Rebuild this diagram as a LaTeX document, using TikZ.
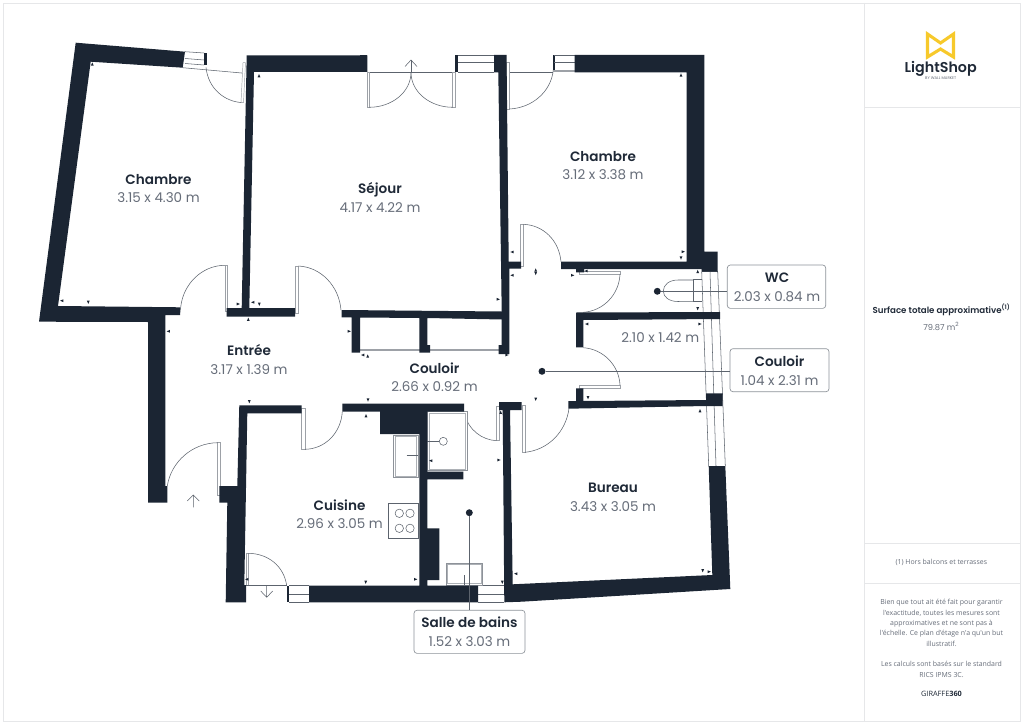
\documentclass[tikz,border=0pt]{standalone}
\usepackage{fontspec}
\setmainfont{Poppins}
\newfontfamily\semib{Poppins}[UprightFont=* SemiBold]
\newfontfamily\smallfont{Open Sans}
\definecolor{wallc}{HTML}{1B2533}
\definecolor{textd}{HTML}{1F2937}
\definecolor{textg}{HTML}{666D79}
\definecolor{linec}{HTML}{5C636D}
\definecolor{framec}{HTML}{E6E7E9}
\definecolor{gold}{HTML}{F7C92B}
\tikzset{
  wallp/.style={fill=wallc,draw=none},
  thin line/.style={draw=linec,line width=.4pt},
  panel/.style={draw=linec!60,line width=.35pt,fill=white},
  rname/.style={font=\semib\fontsize{10.2}{12}\selectfont,text=textd,inner sep=0pt,anchor=center,text height=8.6pt,text depth=0pt},
  rsize/.style={font=\fontsize{10.1}{12}\selectfont,text=textg,inner sep=0pt,anchor=center,text height=8.6pt,text depth=0pt},
  callout/.style={draw=linec!70,line width=.5pt,rounded corners=2.2pt,fill=white,inner sep=0pt},
  leaderdot/.style={circle,fill=wallc,inner sep=0pt,minimum size=5.2pt},
  frameline/.style={draw=framec,line width=.6pt},
  note/.style={font=\smallfont\fontsize{5.2}{6}\selectfont,text=textg,inner sep=0pt,anchor=center}
}
\begin{document}
\begin{tikzpicture}[x=.75pt,y=-.75pt]
\useasboundingbox (0,0) rectangle (1024,724);
\fill[white] (0,0) rectangle (1024,724);
% frame
\draw[frameline] (3,3) rectangle (1020,721);
\draw[frameline] (864,3) -- (864,721);
\draw[frameline] (864,107) -- (1020,107);
\draw[frameline] (864,543.5) -- (1020,543.5);
\draw[frameline] (864,583.5) -- (1020,583.5);

% chambre window + sill
\draw[thin line] (182.7,67.7) -- (245,73.3);
\draw[thin line] (185,51.7) -- (204,53) (185,58.5) -- (204,60) (185,63.5) -- (204,65);
\fill[wallc] (204,52.7) rectangle (206.7,65);
\draw[thin line] (206,67.3) .. controls (208,88) and (224,102) .. (243.3,102.7);
\draw[panel] (241,102.7) -- (243.5,102.7) -- (245.5,62.7) -- (243,62.7) -- cycle;
% sejour double door
\draw[thin line] (367.3,72.3) -- (455,72.3);
\fill[wallc] (360,55) rectangle (367.3,72);
\draw[panel] (367.3,72.3) rectangle (369.3,107.3);
\draw[panel] (452.7,72.3) rectangle (455,107.3);
\draw[thin line] (369.3,107.3) .. controls (392,107.3) and (411,92) .. (411,72.3);
\draw[thin line] (452.7,107.3) .. controls (430,107.3) and (411,92) .. (411,72.3);
\draw[thin line] (411,72.3) -- (411,60);
\draw[thin line] (405,66.5) -- (411,60) -- (417,66.5);
% sejour window
\fill[wallc] (455,55) rectangle (458.3,72.3);
\draw[thin line] (458,55) -- (494,55) (458,62.7) -- (494,62.7) (458,72.3) -- (494,72.3);
% chambre 2 window and door
\draw[thin line] (507,72.3) -- (553.3,72.3);
\draw[panel] (506.7,62.3) rectangle (509.3,109);
\draw[thin line] (509.3,109) .. controls (532,108) and (551,92) .. (553.3,70);
\fill[wallc] (553.3,55) rectangle (554.6,70);
\draw[thin line] (554,55) -- (575,55) (554,62.3) -- (575,62.3);
\draw[panel] (553.3,70) rectangle (580,71.7);
% entree doors
\draw[panel] (225,265.3) rectangle (227.3,311.7);
\draw[thin line] (180.7,307.3) .. controls (183,284) and (202,265.3) .. (225,265.3);
\draw[panel] (295.7,266) rectangle (298.3,313.3);
\draw[thin line] (298.3,266) .. controls (321,267) and (339,286) .. (341,310);
% closet
\draw[panel] (360,349) rectangle (419.3,350.7);
\draw[panel] (427.3,349) rectangle (499,350.7);
% kitchen door
\draw[panel] (301.7,408.3) rectangle (305,449.3);
\draw[thin line] (305,449.3) .. controls (325,449) and (341,433) .. (342.3,411.7);
% entry door
\draw[panel] (217.7,442.7) rectangle (220,495);
\draw[thin line] (217.7,442.7) .. controls (192,443) and (171,462) .. (167.3,486);
\draw[thin line] (193.3,495) -- (193.3,507.3) (187.3,501) -- (193.3,495) -- (199.3,501);
% kitchen exit door
\draw[panel] (246,553.3) rectangle (248.3,585);
\draw[thin line] (248.3,553.3) .. controls (268,553.5) and (284,566) .. (286.7,585.7);
\draw[thin line] (246,585.7) -- (287,585.7);
\draw[thin line] (266.7,585.7) -- (266.7,597.3) (260.7,591) -- (266.7,597.3) -- (272.7,591);
\fill[wallc] (287,585.7) rectangle (289,602.3);
\draw[thin line] (289,585.7) -- (309,585.7) (289,594) -- (309,594) (289,602.3) -- (309,602.3);
% bath window
\draw[thin line] (478,585.7) -- (504.3,585.7) (478,594) -- (504.3,594) (478,602.3) -- (504.3,602.3);
% bathroom door
\draw[panel] (496.7,406) rectangle (499.3,440.7);
\draw[thin line] (496.7,440.7) .. controls (482,440) and (468,430) .. (464.3,412.7);
% bureau door
\draw[panel] (522.3,405) rectangle (525,452.3);
\draw[thin line] (525,452.3) .. controls (548,450) and (566,432) .. (569,408.3);
% corridor top door
\draw[panel] (520.7,224.3) rectangle (523.3,266.7);
\draw[thin line] (523.3,224.3) .. controls (543,225) and (559,240) .. (561,261.7);
% wc door
\draw[panel] (579.3,271.7) rectangle (620,274.3);
\draw[thin line] (620,274.3) .. controls (619,295) and (603,311) .. (583.3,312.3);
% closet door
\draw[panel] (579.3,385) rectangle (620,388);
\draw[thin line] (620,385) .. controls (619,365) and (603,349) .. (583.3,347.7);
% facade lines
\draw[thin line] (701.7,271.7) -- (708.7,466);
\draw[thin line] (710,271.7) -- (716,466);
\draw[thin line] (717.7,271.7) -- (725.3,466);
\draw[thin line] (701.7,271.7) -- (717.7,271.7) (708.7,466) -- (725.3,466);
% fixtures
\draw[draw=linec!70,line width=.5pt,fill=white] (393.3,435) rectangle (418.3,477.7);
\draw[draw=linec!50,line width=.4pt] (395,436.7) rectangle (416.6,476);
\draw[thin line] (406.7,455.7) -- (418.3,455.7);
\draw[draw=linec!70,line width=.5pt,fill=white] (427.3,411.7) rectangle (467.3,470.7);
\draw[draw=linec!50,line width=.4pt] (429,413.4) rectangle (465.6,469);
\draw[thin line] (427.3,441.3) -- (439.3,441.3);
\draw[thin line] (443.3,441.3) circle[radius=4];
\draw[thin line,fill=white] (388.3,503.3) rectangle (418.3,538.3);
\foreach \cx/\cy in {399.3/513.3,410/513.3,399.3/528.3,410/528.3}
  \draw[thin line] (\cx,\cy) circle[radius=4.2];
\draw[draw=linec!70,line width=.5pt,fill=white] (446,563) rectangle (482.7,585);
\draw[draw=linec!50,line width=.4pt] (447.7,564.7) rectangle (481,583.3);
\draw[thin line] (464.3,575) -- (464.3,585);
% toilet
\draw[thin line] (693.3,280) -- (678,280) .. controls (669,280) and (663.3,285) .. (663.3,291) .. controls (663.3,297) and (669,301.5) .. (678,301.5) -- (693.3,301.7);
\draw[thin line] (693.3,279.3) -- (701.7,279.3) (693.3,279.3) -- (693.3,301) -- (701.7,301);

% walls
\fill[wallp] (75.7,42.7)--(185,51.7)--(182.7,67.7)--(90.7,61.7)--(58,306)--(180.7,307.3)--(180,315)--(165.3,315)--(165.3,486)--(167.3,486)--(167.3,502.7)--(148,502.7)--(148,322)--(39,321.7)--cycle;
\fill[wallp] (246.7,55.3)--(367.3,55.3)--(367.3,72)--(254,72)--(249.3,308)--(295,308)--(295,316.7)--(226.7,316.7)--(226.7,308)--(241.7,308)--cycle;
\fill[wallp] (494,55)--(506.7,55)--(506.7,72.3)--(508.7,261.7)--(521,261.7)--(521,268.5)--(509.3,268.5)--(509.3,354)--(498.7,354)--(498.7,345)--(501.7,345)--(501.7,311)--(498.3,72.3)--(494,72.3)--cycle;
\fill[wallp] (341.7,310)--(502,311.5)--(502,319.5)--(427.3,318)--(427.3,345)--(430,345)--(430,352.7)--(419.3,352.7)--(419.3,318)--(360,317.5)--(360,352.7)--(351.7,352.7)--(351.7,317.3)--(341.7,317.3)--cycle;
\fill[wallp] (574.7,55)--(704.3,55)--(704.3,251.7)--(717.7,251.7)--(717.7,271.7)--(701.7,271.7)--(701.7,269)--(584,269)--(584,272.3)--(576,272.3)--(576,269)--(561,269)--(561,261.7)--(686.7,261.7)--(686.7,72.3)--(574.7,72.3)--cycle;
\fill[wallp] (576,312.5)--(720,312)--(720,319)--(583.3,320)--(583.3,347.3)--(576,347.3)--cycle;
\fill[wallp] (568.3,401)--(576,401)--(576,388.3)--(583.3,388.3)--(583.3,401)--(706,400)--(706,393.3)--(722.7,393.3)--(722.7,406)--(706,406)--(568.3,408.7)--cycle;
\fill[wallp] (499,402)--(521.7,402)--(521.7,410)--(510,410)--(512.7,584.3)--(712.3,575)--(708.7,466)--(725.3,466)--(730.3,589)--(521.7,601.7)--(504.3,602.3)--(502.7,410)--(499,410)--cycle;
\fill[wallp] (239.3,405.3)--(301.7,405.3)--(301.7,413.3)--(247.3,413.3)--(244.3,585)--(246,585)--(246,602.3)--(225.7,602.3)--(227.3,502.7)--(219.3,502.7)--(219.3,486)--(237.3,486)--cycle;
\fill[wallp] (342.3,403.5)--(464,403.5)--(464,411.7)--(427.3,411.7)--(427.3,471.7)--(463.3,471.7)--(463.3,479.3)--(427.3,479.3)--(427.3,528.3)--(439.3,528.3)--(439.3,580)--(427.3,580)--(427.3,585.7)--(478,585.7)--(478,602.3)--(309,602.3)--(309,585.7)--(419.3,585.7)--(419.3,434)--(380,434)--(380,411.7)--(342.3,411.7)--cycle;

% measure ticks
\foreach \x/\y in {92.3/64,259/75.7,248.3/319.3,681/75,535.7/270,367.7/356,366/415.7,700/410.7,500.7/412.3,697.7/271.5}
  \fill[wallc] (\x-1.4,\y+1.6)--(\x+1.4,\y+1.6)--(\x,\y-1.6)--cycle;
\foreach \x/\y in {88.3/302.3,259.3/304.3,681/258,535.7/273.5,249.3/401.7,368/400,365.7/582.3,535.7/399.3,588/397.7,697.7/308.7,502.3/582.3,702.7/570.7}
  \fill[wallc] (\x-1.4,\y-1.6)--(\x+1.4,\y-1.6)--(\x,\y+1.6)--cycle;
\foreach \x/\y in {61.7/300.7,252.7/302.3,512/252,512/275.3,586/271,168.3/331.3,362.7/355,430.7/460.7,246.7/579.3,586.7/324,515.7/573.7}
  \fill[wallc] (\x+1.6,\y-1.4)--(\x+1.6,\y+1.4)--(\x-1.6,\y)--cycle;
\foreach \x/\y in {238.3/304,683.3/251.7,498.3/299.3,572.7/275.3,349.3/331.3,415.7/579.3,700/324,499/460,709.3/571.7,507/355}
  \fill[wallc] (\x-1.6,\y-1.4)--(\x-1.6,\y+1.4)--(\x+1.6,\y)--cycle;

% room labels
\node[rname] (n1) at (158.5,179) {Chambre};
\node[rsize] (s1) at (158.5,197) {3.15 x 4.30 m};
\node[rname] (n2) at (380,188) {Séjour};
\node[rsize] (s2) at (380,207) {4.17 x 4.22 m};
\node[rname] (n3) at (603,156) {Chambre};
\node[rsize] (s3) at (603,174) {3.12 x 3.38 m};
\node[rname] (n4) at (249,350) {Entrée};
\node[rsize] (s4) at (249,368.5) {3.17 x 1.39 m};
\node[rname] (n5) at (434.5,367.5) {Couloir};
\node[rsize] (s5) at (434.5,386) {2.66 x 0.92 m};
\node[rname] (n6) at (339.5,505) {Cuisine};
\node[rsize] (s6) at (339.5,523) {2.96 x 3.05 m};
\node[rname] (n7) at (613,487) {Bureau};
\node[rsize] (s7) at (613,505.5) {3.43 x 3.05 m};
\node[rsize] (s8) at (660.3,336.7) {2.10 x 1.42 m};

% callouts
\node[leaderdot] (dwc) at (657.3,291.3) {};
\node[callout,minimum width=73.8pt,minimum height=32.5pt] (bwc) at (776.5,286.7) {};
\draw[thin line] (dwc) -- (dwc -| bwc.west);
\node[rname] (nwc) at (777,277) {WC};
\node[rsize] (swc) at (777,296) {2.03 x 0.84 m};
\node[leaderdot] (dco) at (542,371.3) {};
\node[callout,minimum width=74.2pt,minimum height=32.3pt] (bco) at (779.5,370.2) {};
\draw[thin line] (dco) -- (dco -| bco.west);
\node[rname] (nco) at (779.5,361) {Couloir};
\node[rsize] (sco) at (779.5,380) {1.04 x 2.31 m};
\node[leaderdot] (dsb) at (469.3,512.7) {};
\node[callout,minimum width=83.2pt,minimum height=32.3pt] (bsb) at (469.5,631.8) {};
\draw[thin line] (dsb) -- (dsb |- bsb.north);
\node[rname] (nsb) at (469.5,622) {Salle de bains};
\node[rsize] (ssb) at (469.5,641) {1.52 x 3.03 m};

% logo
\draw[gold,line width=2.3pt,line join=miter] (927.5,57) -- (927.5,34) -- (940.5,43) -- (953.5,34) -- (953.5,57) -- (940.5,49) -- cycle;
\node[font=\semib\fontsize{10.7}{13}\selectfont,text=textd,inner sep=0pt] (logo) at (940.7,68.5) {LightShop};
\node[font=\fontsize{2.9}{3}\selectfont,text=textg,inner sep=0pt] (logos) at (940.7,78) {BY WALL MARKET};

% side texts
\node[font=\semib\fontsize{6.5}{8}\selectfont,text=textd,inner sep=0pt] (st) at (941.5,310) {Surface totale approximative\textsuperscript{(1)}};
\node[font=\fontsize{6.2}{8}\selectfont,text=textg,inner sep=0pt] (sv) at (941.3,326.3) {79.87 m\textsuperscript{2}};
\node[note] (hb) at (941.3,562.7) {(1) Hors balcons et terrasses};
\node[note] (p1) at (941.5,602.7) {Bien que tout ait été fait pour garantir};
\node[note] (p2) at (941.5,613.3) {l'exactitude, toutes les mesures sont};
\node[note] (p3) at (941.5,623.3) {approximatives et ne sont pas à};
\node[note] (p4) at (941.5,633.7) {l'échelle. Ce plan d'étage n'a qu'un but};
\node[note] (p5) at (941.5,644) {illustratif.};
\node[note] (p6) at (941.5,664) {Les calculs sont basés sur le standard};
\node[note] (p7) at (941.5,674.7) {RICS IPMS 3C.};
\node[font=\smallfont\fontsize{5.5}{7}\selectfont,text=textd,inner sep=0pt] (gi) at (941.5,694) {GIRAFFE\textbf{360}};
\end{tikzpicture}
\end{document}
